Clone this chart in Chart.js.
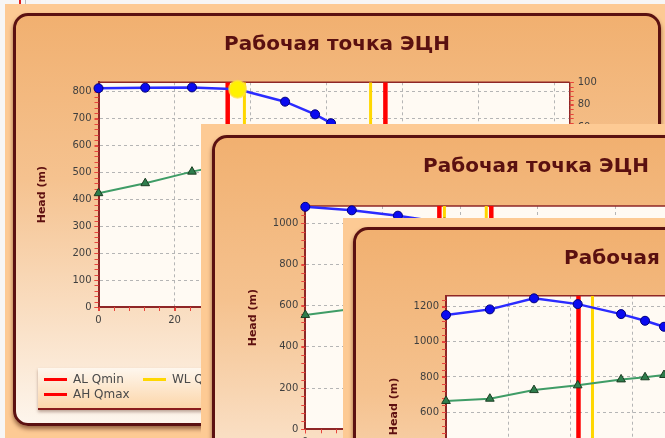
<!DOCTYPE html>
<html>
<head>
<meta charset="utf-8">
<script src="https://cdn.jsdelivr.net/npm/chart.js@4.4.0/dist/chart.umd.min.js"></script>
<style>
  html, body { margin: 0; padding: 0; }
  body { width: 665px; height: 438px; overflow: hidden; position: relative; background: #f7f6f5; font-family: 'DejaVu Sans', sans-serif; }
  .mark { position: absolute; top: 0; height: 5px; }
  .sheet { position: absolute; width: 700px; height: 480px; background: #fdca94; }
  .panel { position: absolute; width: 642px; height: 407px; border: 3px solid #5b1111; border-radius: 15px;
           background: linear-gradient(#f1b070, #f5c28f 40%, #fdf5ec); box-shadow: 0 3px 4px rgba(70, 20, 0, .55); }
  .panel canvas { position: absolute; left: 0; top: 0; }
  .legend { position: absolute; left: 22px; top: 352px; width: 420px; height: 40px;
            background: linear-gradient(#fef7ee, #fcd6aa); border-bottom: 2px solid #8a1c1c;
            box-shadow: 0 2px 3px rgba(70, 20, 0, .35); font-size: 12px; color: #4a4a4a; }
  .legend .item { position: absolute; height: 15px; line-height: 15px; white-space: nowrap; }
  .legend .swatch { position: absolute; left: 0; top: 6px; width: 23px; height: 3px; }
  .legend .text { position: absolute; left: 29px; top: 0; }
</style>
</head>
<body>
<div class="mark" style="left:19px;width:2px;background:#e02020"></div>
<div class="mark" style="left:25px;width:1px;background:#bbbbbb"></div>

<div class="sheet" style="left:5px;top:4px"></div>
<div class="panel" style="left:13px;top:13px">
  <canvas id="chart1" width="642" height="407"></canvas>
  <div class="legend" id="legend1"></div>
</div>

<div class="sheet" style="left:201px;top:124px"></div>
<div class="panel" style="left:212px;top:135px">
  <canvas id="chart2" width="642" height="407"></canvas>
</div>

<div class="sheet" style="left:343px;top:218px"></div>
<div class="panel" style="left:353px;top:227px">
  <canvas id="chart3" width="642" height="407"></canvas>
</div>

<script>
// данные
const chartTitle = 'Рабочая точка ЭЦН';
const headTitle = 'Head (m)';
const limitNames = ['AL Qmin', 'WL Qmin', 'WH Qmax', 'AH Qmax'];

// первый снимок
const flow1 = [0, 12.3, 24.6, 36.6, 49.1, 57.0, 61.2];
const head1 = [813, 815, 816, 809, 763, 716, 683];
const system1 = [423, 460, 503, 537, 566, 580, 588];
const limits1 = [34.0, 38.4, 71.6, 75.5];
const workPoint1 = [36.6, 809];
const headMax1 = 835, headStep1 = 100, flowMax1 = 124;

// второй снимок
const flow2 = [0, 12.0, 23.9, 35.9, 47.8];
const head2 = [1080, 1063, 1037, 1003, 955];
const system2 = [555, 584, 615, 645, 672];
const limits2 = [34.6, 35.9, 46.7, 48.0];
const headMax2 = 1084, headStep2 = 200, flowMax2 = 120;

// третий снимок
const flow3 = [0, 14.1, 28.3, 42.35, 56.3, 64.0, 70.1];
const head3 = [1153, 1185, 1248, 1215, 1158, 1120, 1086];
const system3 = [663, 676, 725, 752, 786, 798, 811];
const limits3 = [42.6, 47.1, 74.0, 78.0];
const headMax3 = 1263, headStep3 = 200, flowMax3 = 150;

const effMin = -100, effMax = 100, effStep = 20;

Chart.defaults.font.family = "'DejaVu Sans', sans-serif";
Chart.defaults.font.size = 10;
Chart.defaults.color = '#3f3f3f';

// фон области графика, верхняя рамка и мелкие засечки
const plotFrame = {
    id: 'plotFrame',
    beforeDraw(chart) {
        const { ctx, chartArea: a } = chart;
        ctx.save();
        ctx.fillStyle = '#fffaf3';
        ctx.fillRect(a.left, a.top, a.width, a.height);
        ctx.restore();
    },
    beforeDatasetsDraw(chart) {
        const { ctx, chartArea: a, scales } = chart;
        ctx.save();
        ctx.strokeStyle = '#e8453c';
        ctx.lineWidth = 1;
        ctx.beginPath();
        ['x', 'y', 'y2'].forEach(id => {
            const s = scales[id];
            const step = s.options.ticks.stepSize / 5;
            for (let v = Math.ceil(s.min / step) * step; v <= s.max + 1e-9; v += step) {
                const p = Math.round(s.getPixelForValue(v)) + 0.5;
                if (id === 'x') { ctx.moveTo(p, a.bottom); ctx.lineTo(p, a.bottom + 4); }
                else if (id === 'y') { ctx.moveTo(a.left - 4, p); ctx.lineTo(a.left, p); }
                else { ctx.moveTo(a.right, p); ctx.lineTo(a.right + 4, p); }
            }
        });
        ctx.stroke();
        ctx.strokeStyle = '#8f2626';
        ctx.lineWidth = 1.5;
        ctx.beginPath();
        ctx.moveTo(a.left, a.top);
        ctx.lineTo(a.right, a.top);
        ctx.stroke();
        ctx.restore();
    }
};

function limitSets(limits) {
    return limitNames.map((name, i) => {
        const alarm = name.startsWith('A');
        return {
            label: name,
            data: [{ x: limits[i], y: 0 }, { x: limits[i], y: 1 }],
            yAxisID: 'yv',
            showLine: true,
            borderColor: alarm ? '#ff0000' : '#ffd700',
            backgroundColor: alarm ? '#ff0000' : '#ffd700',
            borderWidth: alarm ? 4.5 : 3,
            pointRadius: 0,
            order: 5
        };
    });
}

function makeChart(id, d, L) {
    const datasets = limitSets(d.limits);
    datasets.push({
        label: 'Head',
        data: d.flow.map((q, i) => ({ x: q, y: d.head[i] })),
        showLine: true,
        borderColor: '#2b2bff',
        borderWidth: 2.5,
        pointRadius: 4.5,
        pointBackgroundColor: '#0a0af0',
        pointBorderColor: '#00007a',
        pointBorderWidth: 1,
        clip: false,
        order: 2
    });
    datasets.push({
        label: 'System',
        data: d.flow.map((q, i) => ({ x: q, y: d.system[i] })),
        showLine: true,
        borderColor: '#3f9c66',
        borderWidth: 2,
        pointStyle: 'triangle',
        pointRadius: 5,
        pointBackgroundColor: '#2e7d4c',
        pointBorderColor: '#1b3d22',
        pointBorderWidth: 1,
        clip: false,
        order: 3
    });
    if (d.work) {
        datasets.push({
            label: 'Рабочая точка',
            data: [{ x: d.work[0], y: d.work[1] }],
            pointRadius: 8.5,
            pointBackgroundColor: '#fff200',
            pointBorderColor: 'rgba(255, 225, 60, 0.7)',
            pointBorderWidth: 2,
            clip: false,
            order: 0
        });
    }

    return new Chart(document.getElementById(id), {
        type: 'scatter',
        data: { datasets },
        plugins: [plotFrame],
        options: {
            responsive: false,
            animation: false,
            devicePixelRatio: 1,
            layout: { padding: { left: 0, right: 0, top: 0, bottom: L.padBottom } },
            plugins: {
                legend: { display: false },
                tooltip: { enabled: false },
                title: {
                    display: true,
                    text: chartTitle,
                    color: '#5a1010',
                    font: { size: 20, weight: 'bold' },
                    padding: { top: 17, bottom: L.titleGap }
                }
            },
            scales: {
                x: {
                    type: 'linear',
                    min: 0,
                    max: d.flowMax,
                    afterFit: s => { s.height = 30; },
                    ticks: { stepSize: 20, includeBounds: false, padding: 3, format: { useGrouping: false } },
                    grid: { color: '#b5b5b5', tickColor: '#e8453c', tickLength: 4 },
                    border: { color: '#8f2626', width: 2, dash: [3, 3] }
                },
                y: {
                    min: 0,
                    max: d.headMax,
                    afterFit: s => { s.width = L.plotLeft; },
                    ticks: { stepSize: d.headStep, includeBounds: false, padding: 3, format: { useGrouping: false } },
                    title: {
                        display: true,
                        text: headTitle,
                        color: '#5e1010',
                        font: { size: 11, weight: 'bold' },
                        padding: { top: L.titleLeft - 6.6, bottom: 4 }
                    },
                    grid: { color: '#b5b5b5', tickColor: '#e8453c', tickLength: 4 },
                    border: { color: '#8f2626', width: 2, dash: [3, 3] }
                },
                y2: {
                    position: 'right',
                    min: effMin,
                    max: effMax,
                    afterFit: s => { s.width = L.rightWidth; },
                    ticks: { stepSize: effStep, padding: 4 },
                    grid: { drawOnChartArea: false, tickColor: '#e8453c', tickLength: 4 },
                    border: { color: '#8f2626', width: 1.5 }
                },
                yv: { display: false, min: 0, max: 1 }
            }
        }
    });
}

function buildLegend(el, chart) {
    chart.data.datasets
        .filter(ds => limitNames.includes(ds.label))
        .forEach((ds, i) => {
            const item = document.createElement('div');
            item.className = 'item';
            item.style.left = (6 + (i % 3) * 99) + 'px';
            item.style.top = (4 + Math.floor(i / 3) * 15) + 'px';
            item.innerHTML = `<span class="swatch" style="background:${ds.borderColor}"></span><span class="text">${ds.label}</span>`;
            el.appendChild(item);
        });
}

const chart1 = makeChart('chart1',
    { flow: flow1, head: head1, system: system1, limits: limits1, work: workPoint1, headMax: headMax1, headStep: headStep1, flowMax: flowMax1 },
    { plotLeft: 82.5, titleLeft: 26, rightWidth: 88.3, titleGap: 25.3, padBottom: 86 });
makeChart('chart2',
    { flow: flow2, head: head2, system: system2, limits: limits2, work: null, headMax: headMax2, headStep: headStep2, flowMax: flowMax2 },
    { plotLeft: 90.3, titleLeft: 38.3, rightWidth: 86.7, titleGap: 27, padBottom: 85.7 });
makeChart('chart3',
    { flow: flow3, head: head3, system: system3, limits: limits3, work: null, headMax: headMax3, headStep: headStep3, flowMax: flowMax3 },
    { plotLeft: 90, titleLeft: 38.3, rightWidth: 85.5, titleGap: 24.7, padBottom: 89.7 });

buildLegend(document.getElementById('legend1'), chart1);
</script>
</body>
</html>
